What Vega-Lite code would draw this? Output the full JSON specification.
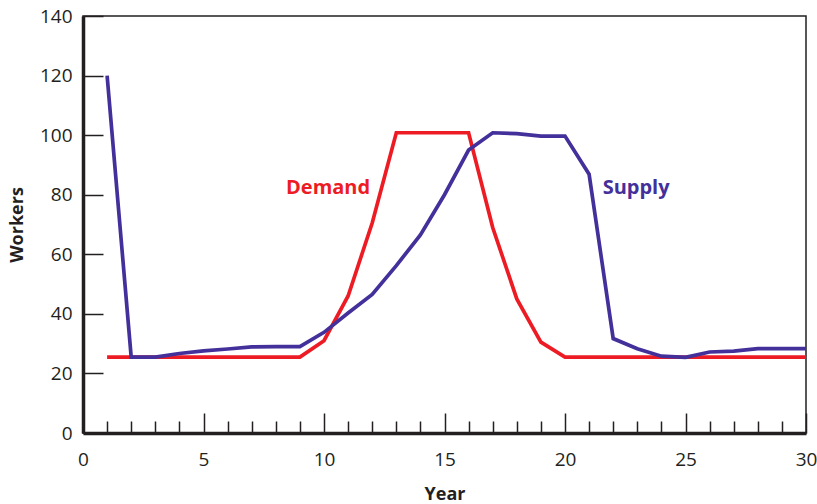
{
  "$schema": "https://vega.github.io/schema/vega-lite/v6.json",
  "autosize": "none",
  "width": 723,
  "height": 417,
  "padding": {"left": 83, "top": 16, "right": 11, "bottom": 71},
  "background": "white",
  "view": {"stroke": "#231F20", "strokeWidth": 1.5},
  "config": {
    "font": "Open Sans",
    "axis": {
      "domainColor": "#231F20",
      "domainWidth": 3.5,
      "tickColor": "#231F20",
      "tickWidth": 1.5,
      "labelColor": "#231F20",
      "titleColor": "#231F20",
      "labelFont": "Open Sans",
      "titleFont": "Open Sans",
      "labelFontSize": 19,
      "titleFontSize": 18,
      "titleFontWeight": "bold",
      "labelFlush": false,
      "grid": false
    }
  },
  "datasets": {
    "series": [
      {"Year": 1, "Workers": 25.5, "series": "Demand"},
      {"Year": 2, "Workers": 25.5, "series": "Demand"},
      {"Year": 3, "Workers": 25.5, "series": "Demand"},
      {"Year": 4, "Workers": 25.5, "series": "Demand"},
      {"Year": 5, "Workers": 25.5, "series": "Demand"},
      {"Year": 6, "Workers": 25.5, "series": "Demand"},
      {"Year": 7, "Workers": 25.5, "series": "Demand"},
      {"Year": 8, "Workers": 25.5, "series": "Demand"},
      {"Year": 9, "Workers": 25.5, "series": "Demand"},
      {"Year": 10, "Workers": 31, "series": "Demand"},
      {"Year": 11, "Workers": 46, "series": "Demand"},
      {"Year": 12, "Workers": 70.5, "series": "Demand"},
      {"Year": 13, "Workers": 100.8, "series": "Demand"},
      {"Year": 14, "Workers": 100.8, "series": "Demand"},
      {"Year": 15, "Workers": 100.8, "series": "Demand"},
      {"Year": 16, "Workers": 100.8, "series": "Demand"},
      {"Year": 17, "Workers": 69, "series": "Demand"},
      {"Year": 18, "Workers": 45, "series": "Demand"},
      {"Year": 19, "Workers": 30.5, "series": "Demand"},
      {"Year": 20, "Workers": 25.5, "series": "Demand"},
      {"Year": 21, "Workers": 25.5, "series": "Demand"},
      {"Year": 22, "Workers": 25.5, "series": "Demand"},
      {"Year": 23, "Workers": 25.5, "series": "Demand"},
      {"Year": 24, "Workers": 25.5, "series": "Demand"},
      {"Year": 25, "Workers": 25.5, "series": "Demand"},
      {"Year": 26, "Workers": 25.5, "series": "Demand"},
      {"Year": 27, "Workers": 25.5, "series": "Demand"},
      {"Year": 28, "Workers": 25.5, "series": "Demand"},
      {"Year": 29, "Workers": 25.5, "series": "Demand"},
      {"Year": 30, "Workers": 25.5, "series": "Demand"},
      {"Year": 1, "Workers": 120, "series": "Supply"},
      {"Year": 2, "Workers": 25.5, "series": "Supply"},
      {"Year": 3, "Workers": 25.5, "series": "Supply"},
      {"Year": 4, "Workers": 26.7, "series": "Supply"},
      {"Year": 5, "Workers": 27.6, "series": "Supply"},
      {"Year": 6, "Workers": 28.2, "series": "Supply"},
      {"Year": 7, "Workers": 28.9, "series": "Supply"},
      {"Year": 8, "Workers": 29, "series": "Supply"},
      {"Year": 9, "Workers": 29, "series": "Supply"},
      {"Year": 10, "Workers": 33.8, "series": "Supply"},
      {"Year": 11, "Workers": 40.3, "series": "Supply"},
      {"Year": 12, "Workers": 46.5, "series": "Supply"},
      {"Year": 13, "Workers": 56.2, "series": "Supply"},
      {"Year": 14, "Workers": 66.5, "series": "Supply"},
      {"Year": 15, "Workers": 80, "series": "Supply"},
      {"Year": 16, "Workers": 95, "series": "Supply"},
      {"Year": 17, "Workers": 100.8, "series": "Supply"},
      {"Year": 18, "Workers": 100.5, "series": "Supply"},
      {"Year": 19, "Workers": 99.7, "series": "Supply"},
      {"Year": 20, "Workers": 99.7, "series": "Supply"},
      {"Year": 21, "Workers": 86.9, "series": "Supply"},
      {"Year": 22, "Workers": 31.7, "series": "Supply"},
      {"Year": 23, "Workers": 28.3, "series": "Supply"},
      {"Year": 24, "Workers": 25.8, "series": "Supply"},
      {"Year": 25, "Workers": 25.4, "series": "Supply"},
      {"Year": 26, "Workers": 27.2, "series": "Supply"},
      {"Year": 27, "Workers": 27.5, "series": "Supply"},
      {"Year": 28, "Workers": 28.3, "series": "Supply"},
      {"Year": 29, "Workers": 28.3, "series": "Supply"},
      {"Year": 30, "Workers": 28.3, "series": "Supply"}
    ],
    "labels": [
      {"Year": 10.17, "Workers": 80.2, "series": "Demand"},
      {"Year": 22.95, "Workers": 80.2, "series": "Supply"}
    ]
  },
  "encoding": {
    "x": {
      "field": "Year",
      "type": "quantitative",
      "scale": {"domain": [0, 30], "nice": false, "zero": false},
      "axis": {
        "title": "Year",
        "values": [0,1,2,3,4,5,6,7,8,9,10,11,12,13,14,15,16,17,18,19,20,21,22,23,24,25,26,27,28,29,30],
        "labelExpr": "datum.value % 5 === 0 ? datum.label : ''",
        "tickSize": {"condition": {"test": "datum.value % 5 === 0", "value": -20}, "value": -12},
        "labelPadding": 37,
        "titlePadding": 16
      }
    },
    "y": {
      "field": "Workers",
      "type": "quantitative",
      "scale": {"domain": [0, 140], "nice": false},
      "axis": {
        "title": "Workers",
        "values": [0, 20, 40, 60, 80, 100, 120, 140],
        "tickSize": -20,
        "labelPadding": 31,
        "titlePadding": 13
      }
    },
    "color": {
      "field": "series",
      "type": "nominal",
      "scale": {"domain": ["Demand", "Supply"], "range": ["#ED1C24", "#43309A"]},
      "legend": null
    }
  },
  "layer": [
    {
      "data": {"name": "series"},
      "mark": {"type": "line", "strokeWidth": 3.7}
    },
    {
      "data": {"name": "labels"},
      "mark": {"type": "text", "fontSize": 20, "fontWeight": "bold", "align": "center", "baseline": "alphabetic", "font": "Open Sans"},
      "encoding": {"text": {"field": "series", "type": "nominal"}}
    }
  ]
}
